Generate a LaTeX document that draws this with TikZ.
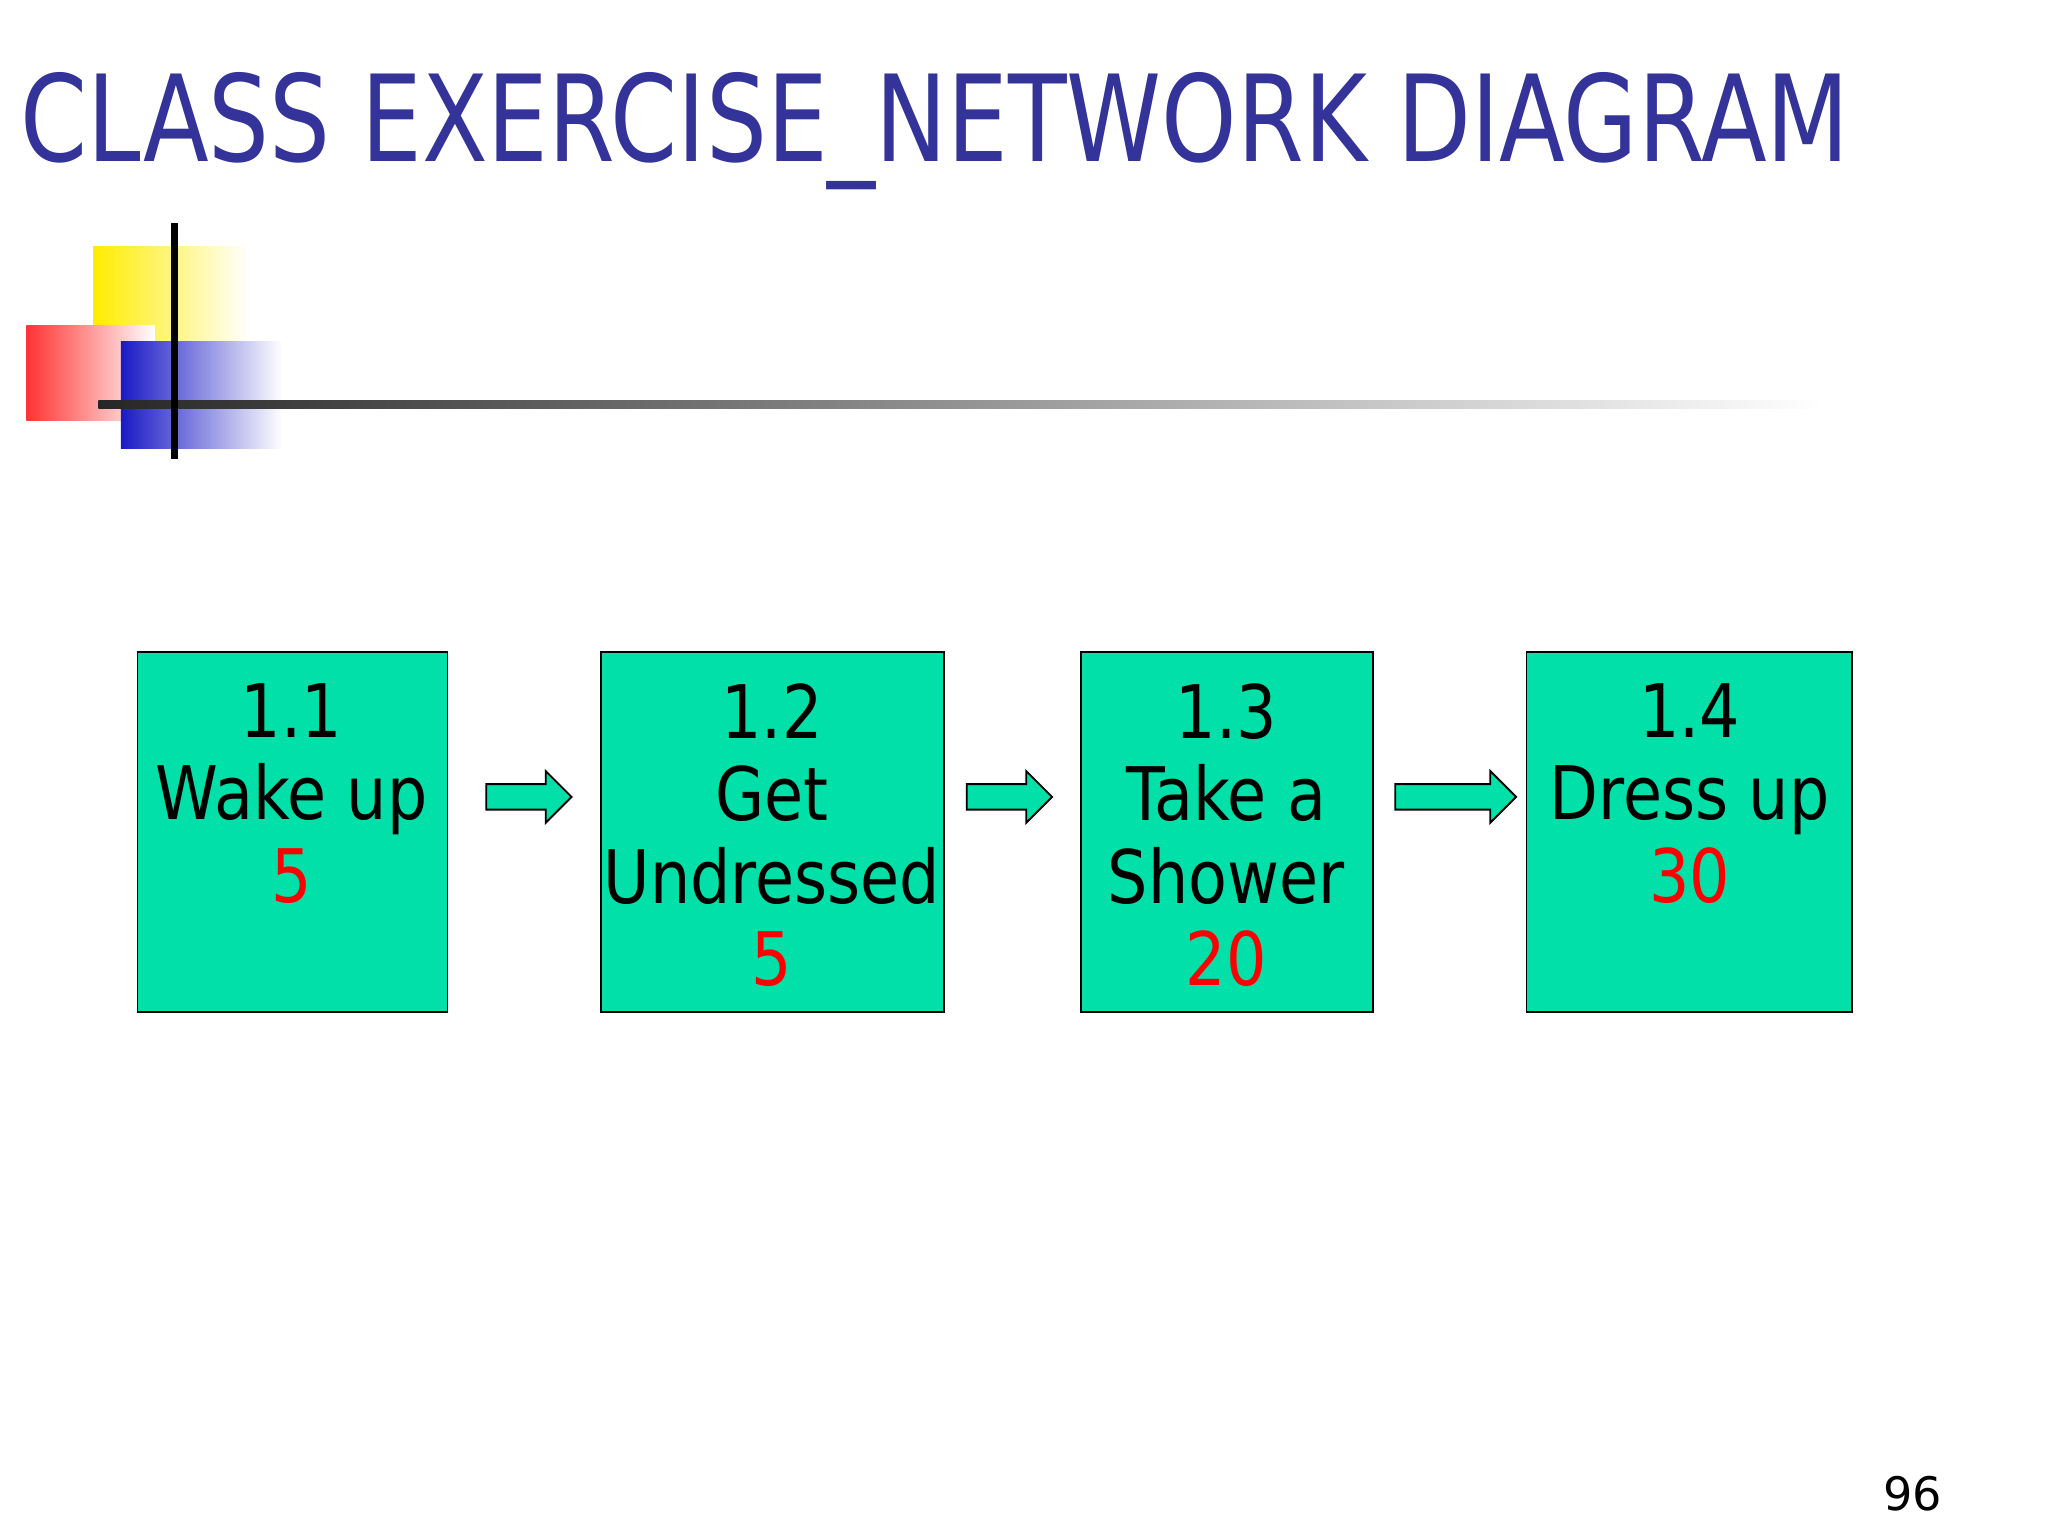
\documentclass[tikz,border=0pt]{standalone}
\usepackage{fontspec}
\setmainfont{DejaVu Sans}
\usepackage{xcolor}
\usetikzlibrary{shapes.arrows}
\usetikzlibrary{positioning}
\definecolor{titleblue}{rgb}{0.2,0.2,0.6}
\definecolor{mint}{rgb}{0.0,0.88,0.66}
\newcommand{\narrow}[1]{\scalebox{0.86}[1]{#1}}
\begin{document}
\begin{tikzpicture}[x=0.01cm,y=-0.01cm,
  task/.style={draw,fill=mint,anchor=north west,inner sep=0pt},
  label/.style={anchor=north,align=center,font=\fontsize{16}{17.9}\selectfont},
  link/.style={single arrow,draw,fill=mint,minimum height=#1,minimum width=0.38cm,
    single arrow head extend=0.1cm,inner sep=0.09cm}]
  \useasboundingbox (0,0) rectangle (1560,1170);
  % title and decoration
  \node[anchor=west,text=titleblue,font=\fontsize{26}{28}\selectfont,inner sep=0pt] (title) at (15,100) {\scalebox{0.8}[1]{CLASS EXERCISE\_NETWORK DIAGRAM}};
  \shade[left color=yellow!85!orange,right color=white] (71,188) rectangle (190,260);
  \shade[left color=red!80,right color=white] (20,248) rectangle (118,320);
  \shade[left color=blue!75!black!90,right color=white] (92,260) rectangle (215,342);
  \shade[left color=black!85,right color=white] (75,305) rectangle (1390,311);
  \draw[line width=1.5pt] (133,170) -- (133,350);
  % tasks
  \node[task,minimum width=2.36cm,minimum height=2.74cm] (t1) at (104,496) {};
  \node[task,minimum width=2.61cm,minimum height=2.74cm] (t2) at (457,496) {};
  \node[task,minimum width=2.22cm,minimum height=2.74cm] (t3) at (823,496) {};
  \node[task,minimum width=2.48cm,minimum height=2.74cm] (t4) at (1162,496) {};
  \node[label] (l1) at (222,508) {\narrow{1.1}\\\narrow{Wake up}\\\narrow{\textcolor{red}{5}}};
  \node[label] (l2) at (588,508) {\narrow{1.2}\\\narrow{Get}\\\narrow{Undressed}\\\narrow{\textcolor{red}{5}}};
  \node[label] (l3) at (934,508) {\narrow{1.3}\\\narrow{Take a}\\\narrow{Shower}\\\narrow{\textcolor{red}{20}}};
  \node[label] (l4) at (1287,508) {\narrow{1.4}\\\narrow{Dress up}\\\narrow{\textcolor{red}{30}}};
  % arrows
  \node[link=0.65cm] (a1) at (398,607) {};
  \node[link=0.65cm] (a2) at (764,607) {};
  \node[link=0.92cm] (a3) at (1104,607) {};
  \node[font=\fontsize{10}{12}\selectfont] (page) at (1457,1138) {96};
\end{tikzpicture}
\end{document}
